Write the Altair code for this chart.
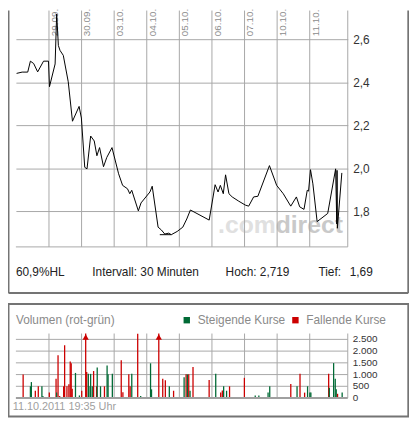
import altair as alt
import pandas as pd

# ---------------- data ----------------
# trading-day index: 0 = 29.09., 1 = 30.09., 2 = 03.10., ...
price_day = [-0.994, -0.824, -0.652, -0.570, -0.470, -0.348, -0.167, -0.015, 0.015, 0.188,
             0.236, 0.288, 0.339, 0.439, 0.591, 0.721, 0.924, 0.994, 1.097, 1.167,
             1.279, 1.388, 1.470, 1.552, 1.673, 1.773, 1.933, 2.136, 2.258, 2.409,
             2.479, 2.539, 2.742, 2.824, 3.097, 3.167, 3.348, 3.448, 3.552, 3.673,
             3.752, 3.933, 4.106, 4.182, 4.227, 4.339, 4.915, 5.097, 5.188, 5.258,
             5.348, 5.418, 5.521, 5.621, 5.824, 6.024, 6.127, 6.279, 6.409, 6.764,
             6.985, 7.188, 7.418, 7.591, 7.691, 7.824, 7.924, 7.964, 8.024, 8.097,
             8.227, 8.552, 8.795, 8.830, 8.838, 8.848, 8.985]
price_val = [2.442, 2.448, 2.448, 2.499, 2.488, 2.449, 2.499, 2.499, 2.380, 2.486,
             2.719, 2.572, 2.549, 2.526, 2.403, 2.219, 2.288, 2.234, 2.004, 1.997,
             2.150, 2.127, 2.058, 2.096, 2.007, 2.050, 2.096, 1.974, 1.920, 1.904,
             1.881, 1.897, 1.801, 1.838, 1.889, 1.916, 1.725, 1.712, 1.693, 1.697,
             1.690, 1.705, 1.725, 1.749, 1.763, 1.805, 1.758, 1.923, 1.889, 1.920,
             1.881, 1.969, 1.881, 1.866, 1.846, 1.828, 1.823, 1.866, 1.869, 2.012,
             1.920, 1.881, 1.823, 1.866, 1.820, 1.808, 1.897, 1.893, 1.993, 1.927,
             1.751, 1.789, 1.997, 1.740, 1.990, 1.720, 1.978]

low_value = 1.69
low_days = [3.40, 3.75]

day_labels = ["29.09.", "30.09.", "03.10.", "04.10.", "05.10.", "06.10.", "07.10.", "10.10.", "11.10."]
day_pos = [0, 1, 2, 3, 4, 5, 6, 7, 8]

price_ticks = [1.8, 2.0, 2.2, 2.4, 2.6]

vol_day = [-0.793, -0.570, -0.540, -0.419, -0.328, -0.217, -0.187, 0.010, 0.217, 0.237,
           0.278, 0.328, 0.449, 0.480, 0.551, 0.611, 0.652, 0.682, 0.712, 0.813,
           0.934, 1.005, 1.126, 1.157, 1.207, 1.227, 1.278, 1.328, 1.369, 1.460,
           1.480, 1.581, 1.702, 1.783, 1.813, 1.944, 2.217, 2.268, 2.449, 2.490,
           2.540, 2.722, 2.813, 3.116, 3.146, 3.369, 3.490, 3.570, 3.692, 3.823,
           4.146, 4.207, 4.247, 4.288, 4.328, 4.419, 4.914, 5.116, 5.268, 5.318,
           5.359, 5.449, 5.540, 5.995, 6.328, 6.439, 6.722, 6.773, 7.419, 7.611,
           7.702, 7.843, 7.934, 8.005, 8.035, 8.581, 8.601, 8.733, 8.783, 8.813,
           8.854, 8.995]
vol_val = [1000, 500, 680, 310, 500, 500, 90, 230, 820, 230,
           1820, 90, 500, 2250, 500, 590, 1560, 1480, 400, 1070,
           110, 310, 3000, 1110, 1030, 500, 1030, 500, 1150, 500,
           1300, 500, 500, 1390, 1010, 1030, 1610, 250, 1010, 500,
           1030, 2740, 90, 1480, 370, 3000, 820, 760, 500, 310,
           890, 1010, 1010, 1010, 310, 1320, 770, 1030, 230, 320,
           500, 310, 500, 860, 110, 110, 230, 500, 600, 500,
           1030, 230, 500, 230, 230, 1030, 440, 1490, 820, 370,
           180, 230]
vol_dir = ["F", "S", "S", "F", "F", "S", "S", "F", "F", "S",
           "F", "F", "F", "F", "F", "F", "F", "F", "F", "S",
           "S", "F", "F", "F", "S", "S", "S", "S", "F", "F",
           "S", "S", "F", "S", "S", "S", "F", "F", "F", "F",
           "S", "F", "S", "S", "S", "F", "F", "F", "S", "F",
           "S", "F", "S", "F", "S", "F", "F", "S", "F", "F",
           "S", "S", "F", "F", "S", "S", "S", "S", "F", "S",
           "F", "F", "S", "S", "S", "F", "S", "S", "S", "S",
           "F", "S"]

vol_grid = [500, 1000, 1500, 2000, 2500]
vol_ticks = [0, 500, 1000, 1500, 2000, 2500]
vol_tick_labels = ["0", "500", "1.000", "1.500", "2.000", "2.500"]

stats_texts = ["60,9%HL", "Intervall: 30 Minuten", "Hoch: 2,719", "Tief:", "1,69"]
vol_title = "Volumen (rot-grün)"
legend_up = "Steigende Kurse"
legend_down = "Fallende Kurse"
stamp = "11.10.2011 19:35 Uhr"

# ---------------- styling ----------------
FONT = "Liberation Sans"
GRID = "#a8a8a8"
FRAME = "#747474"
RED = "#cc0000"
GREEN = "#006a35"

W, H = 336, 414
X_MIN, X_MAX = -1.015, 9.167
P_MIN, P_MAX = 1.633, 2.735
V_MAX = 2750
ARROW_LEVEL = 2600

PX = alt.Scale(domain=[X_MIN, X_MAX], nice=False, zero=False)
PY = alt.Scale(domain=[P_MIN, P_MAX], range=[239.3, 0], nice=False, zero=False)
VY = alt.Scale(domain=[0, V_MAX], range=[392.3, 327], nice=False, zero=False, clamp=True)

one = pd.DataFrame({"k": [0]})
price_df = pd.DataFrame({"d": price_day, "p": price_val})
low_df = pd.DataFrame({"d": low_days, "p": [low_value] * len(low_days)})
days_df = pd.DataFrame({"d": day_pos, "lbl": day_labels})
vlines_df = pd.DataFrame({"d": day_pos + [X_MAX]})
vol_df = pd.DataFrame({"d": vol_day, "v": vol_val,
                       "dir": [legend_up if s == "S" else legend_down for s in vol_dir]})
vgrid_df = pd.DataFrame({"v": vol_grid})
vlab_df = pd.DataFrame({"v": vol_ticks, "t": vol_tick_labels})

xq = alt.X("d:Q", scale=PX, axis=None)

layers = []

# frames
layers.append(alt.Chart(one).mark_rect(fillOpacity=0, stroke=FRAME, strokeWidth=2).encode(
    x=alt.value(-7.5), x2=alt.value(397.3), y=alt.value(297), y2=alt.value(411)))
layers.append(alt.Chart(one).mark_rule(color=FRAME, strokeWidth=2).encode(
    x=alt.value(-7.5), y=alt.value(0), y2=alt.value(286)))
layers.append(alt.Chart(one).mark_rule(color=FRAME, strokeWidth=2).encode(
    x=alt.value(397.3), y=alt.value(0), y2=alt.value(286)))
layers.append(alt.Chart(one).mark_rule(color=FRAME, strokeWidth=2).encode(
    x=alt.value(-7.5), x2=alt.value(397.3), y=alt.value(286)))

# watermark
layers.append(alt.Chart(one).mark_text(text=".com", font=FONT, fontSize=25, fontWeight="bold",
                                       color="#e0e0e0", align="left", baseline="alphabetic").encode(
    x=alt.value(204.7), y=alt.value(225)))
layers.append(alt.Chart(one).mark_text(text="direct", font=FONT, fontSize=25, fontWeight="bold",
                                       color="#c9c9c9", align="left", baseline="alphabetic").encode(
    x=alt.value(263), y=alt.value(225)))

# price panel grid
layers.append(alt.Chart(vlines_df).mark_rule(color=GRID, strokeWidth=1).encode(
    x=xq, y=alt.YDatum(P_MAX, scale=PY, axis=None), y2=alt.Y2Datum(P_MIN)))
layers.append(alt.Chart(one).mark_rule(color=GRID, strokeWidth=1).encode(
    x=alt.XDatum(X_MIN, scale=PX, axis=None), x2=alt.X2Datum(X_MAX),
    y=alt.YDatum(P_MIN, scale=PY, axis=None)))

# date labels
layers.append(alt.Chart(days_df).mark_text(angle=270, align="left", baseline="top", dy=1,
                                           font=FONT, fontSize=10, color="#8c8c8c").encode(
    x=xq, y=alt.value(26), text="lbl:N"))

# price line with right axis
layers.append(alt.Chart(price_df).mark_line(color="black", strokeWidth=1).encode(
    x=xq,
    y=alt.Y("p:Q", scale=PY, axis=alt.Axis(
        orient="right", values=price_ticks, grid=True, gridColor=GRID, gridWidth=1,
        domain=False, ticks=False, tickSize=0, labelPadding=5, labelFont=FONT,
        labelFontSize=12, labelColor="#333333", title=None,
        labelExpr="replace(format(datum.value, '.1f'), '.', ',')"))))
layers.append(alt.Chart(low_df).mark_line(color="black", strokeWidth=1).encode(
    x=xq, y=alt.Y("p:Q", scale=PY, axis=None)))

# stats row
stat_x = [0, 77.3, 212.3, 306.3, 338]
for t, xx in zip(stats_texts, stat_x):
    layers.append(alt.Chart(one).mark_text(text=t, font=FONT, fontSize=12, color="#222222",
                                           align="left", baseline="middle").encode(
        x=alt.value(xx), y=alt.value(264.3)))

# volume title and legend
layers.append(alt.Chart(one).mark_text(text=vol_title, font=FONT, fontSize=12, color="#8a8a8a",
                                       align="left", baseline="middle").encode(
    x=alt.value(0), y=alt.value(313.7)))
layers.append(alt.Chart(one).mark_square(size=42, color=GREEN, opacity=1).encode(
    x=alt.value(173), y=alt.value(313.5)))
layers.append(alt.Chart(one).mark_text(text=legend_up, font=FONT, fontSize=12, color="#8a8a8a",
                                       align="left", baseline="middle").encode(
    x=alt.value(184), y=alt.value(313.7)))
layers.append(alt.Chart(one).mark_square(size=42, color=RED, opacity=1).encode(
    x=alt.value(283), y=alt.value(313.5)))
layers.append(alt.Chart(one).mark_text(text=legend_down, font=FONT, fontSize=12, color="#8a8a8a",
                                       align="left", baseline="middle").encode(
    x=alt.value(294), y=alt.value(313.7)))

# volume grid
layers.append(alt.Chart(vgrid_df).mark_rule(color=GRID, strokeWidth=1).encode(
    y=alt.Y("v:Q", scale=VY, axis=None),
    x=alt.XDatum(X_MIN, scale=PX, axis=None), x2=alt.X2Datum(X_MAX)))
layers.append(alt.Chart(vlines_df).mark_rule(color=GRID, strokeWidth=1).encode(
    x=xq, y=alt.YDatum(V_MAX, scale=VY, axis=None), y2=alt.Y2Datum(0)))

# volume bars
layers.append(alt.Chart(vol_df).mark_rule(strokeWidth=1.3).encode(
    x=xq, y=alt.Y("v:Q", scale=VY, axis=None), y2=alt.Y2Datum(0),
    color=alt.Color("dir:N", scale=alt.Scale(domain=[legend_up, legend_down], range=[GREEN, RED]),
                    legend=None)))
layers.append(alt.Chart(vol_df).transform_filter(alt.datum.v > V_MAX).transform_calculate(
    ay=str(ARROW_LEVEL)).mark_point(shape="triangle-up", filled=True, size=40, color=RED, opacity=1).encode(
    x=xq, y=alt.Y("ay:Q", scale=VY, axis=None)))

# volume baseline
layers.append(alt.Chart(one).mark_rule(color="#a0a0a0", strokeWidth=2).encode(
    x=alt.XDatum(X_MIN, scale=PX, axis=None), x2=alt.X2Datum(X_MAX),
    y=alt.YDatum(0, scale=VY, axis=None)))

# volume labels
layers.append(alt.Chart(vlab_df).mark_text(font=FONT, fontSize=10, color="#333333",
                                           align="left", baseline="middle").encode(
    x=alt.value(341), y=alt.Y("v:Q", scale=VY, axis=None), text="t:N"))

# timestamp
layers.append(alt.Chart(one).mark_text(text=stamp, font=FONT, fontSize=11, color="#a0a0a0",
                                       align="left", baseline="middle").encode(
    x=alt.value(-3.3), y=alt.value(401.3)))

chart = alt.layer(*layers).resolve_scale(y="independent").properties(
    width=W, height=H,
    autosize=alt.AutoSizeParams(type="none"),
    padding={"left": 8, "top": 0, "right": 62, "bottom": 0},
).configure_view(strokeWidth=0)

chart.save("out.html", embed_options={"renderer": "svg", "actions": False})
